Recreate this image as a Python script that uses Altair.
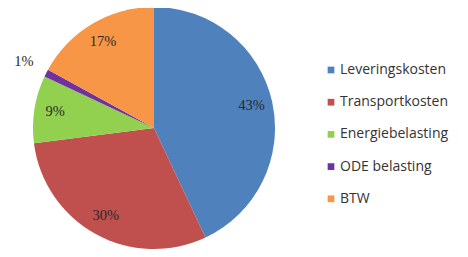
import altair as alt
import pandas as pd

categories = ["Leveringskosten", "Transportkosten", "Energiebelasting", "ODE belasting", "BTW"]
values = [43, 30, 9, 1, 17]
labels = ["43%", "30%", "9%", "1%", "17%"]
colors = ["#4F81BD", "#C0504D", "#92D050", "#7030A0", "#F79646"]

df = pd.DataFrame({
    "cat": categories,
    "value": values,
    "label": labels,
    "order": list(range(len(categories))),
})

base = alt.Chart(df).encode(
    theta=alt.Theta("value:Q", stack=True),
    order=alt.Order("order:Q"),
    x=alt.value(146),
    y=alt.value(120),
)

arcs = base.mark_arc(outerRadius=121).encode(
    color=alt.Color(
        "cat:N",
        scale=alt.Scale(domain=categories, range=colors),
        legend=alt.Legend(
            title=None,
            orient="none",
            legendX=316,
            legendY=55,
            symbolType="square",
            symbolSize=45,
            symbolStrokeWidth=0,
            labelFont="Open Sans",
            labelFontSize=14,
            labelColor="#333333",
            rowPadding=18.2,
            labelOffset=2,
        ),
    )
)

text_in = base.transform_calculate(
    lab="datum.value >= 5 ? datum.label : ''"
).mark_text(
    radius=100, font="Liberation Serif", fontSize=14.5, color="#2a2a2a"
).encode(text="lab:N")

text_out = base.transform_calculate(
    lab="datum.value < 5 ? datum.label : ''"
).mark_text(
    radius=146, font="Liberation Serif", fontSize=14.5, color="#2a2a2a"
).encode(text="lab:N")

chart = alt.layer(arcs, text_in, text_out).properties(
    width=452, height=241, autosize=alt.AutoSizeParams(type="none"), padding=0
).configure_view(stroke=None)

chart.save("out.html", embed_options={"renderer": "svg", "actions": False})
